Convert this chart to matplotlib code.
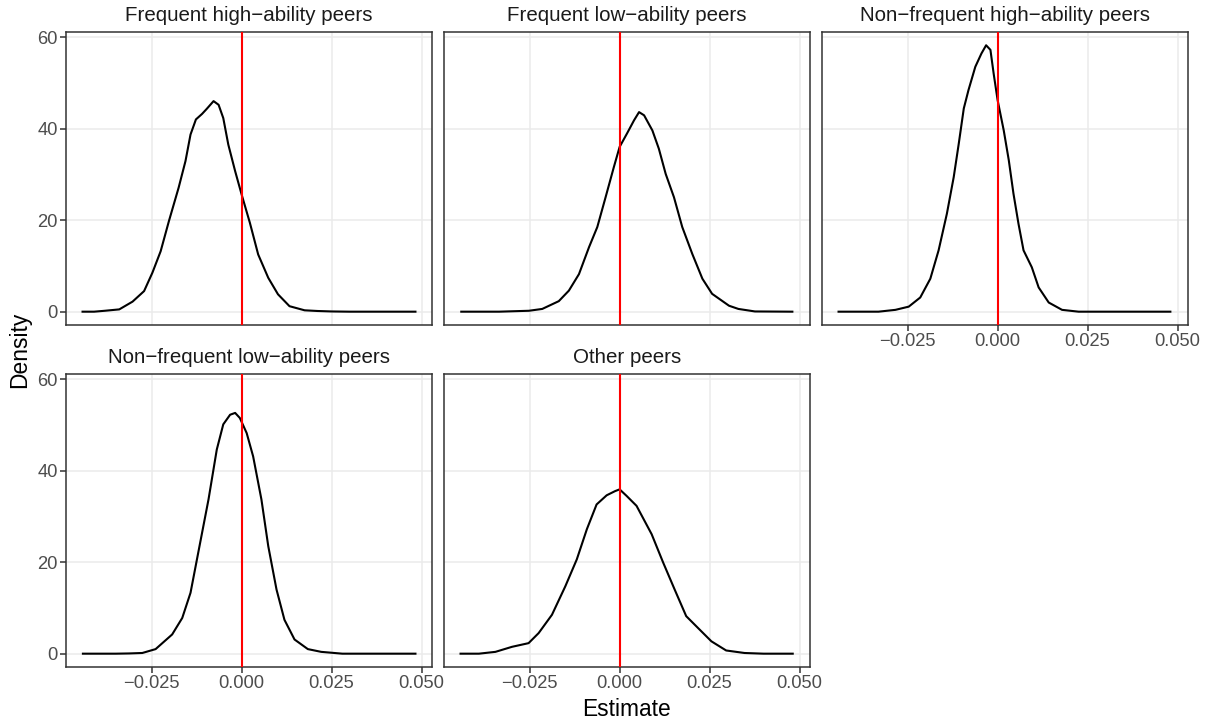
import numpy as np
import matplotlib.pyplot as plt

# panel titles (facet order)
panels = ["Frequent high−ability peers", "Frequent low−ability peers",
          "Non−frequent high−ability peers", "Non−frequent low−ability peers",
          "Other peers"]

# density curves
x_fh = [-0.0442, -0.0410, -0.0380, -0.0340, -0.0303, -0.0271, -0.0248, -0.0225, -0.0202, -0.0175,
        -0.0156, -0.0142, -0.0127, -0.0110, -0.0097, -0.0078, -0.0064, -0.0051, -0.0037, -0.0018,
        0.0000, 0.0023, 0.0046, 0.0074, 0.0101, 0.0133, 0.0175, 0.0211, 0.0250, 0.0300, 0.0483]
y_fh = [0.0, 0.0, 0.2, 0.5, 2.2, 4.5, 8.5, 13.2, 19.8, 27.1,
        32.9, 38.7, 42.0, 43.2, 44.3, 46.0, 45.2, 42.3, 36.5, 30.7,
        25.6, 19.4, 12.5, 7.4, 3.8, 1.2, 0.3, 0.15, 0.05, 0.0, 0.0]

x_fl = [-0.0440, -0.0335, -0.0252, -0.0215, -0.0169, -0.0141, -0.0113, -0.0085, -0.0062, -0.0039,
        -0.0016, 0.0000, 0.0021, 0.0040, 0.0054, 0.0068, 0.0091, 0.0109, 0.0128, 0.0151,
        0.0174, 0.0202, 0.0230, 0.0257, 0.0304, 0.0330, 0.0376, 0.0480]
y_fl = [0.0, 0.0, 0.2, 0.6, 2.3, 4.6, 8.2, 14.1, 18.5, 25.0,
        31.6, 36.0, 39.0, 41.8, 43.6, 42.9, 39.6, 35.6, 30.1, 25.0,
        18.5, 12.6, 7.2, 3.9, 1.3, 0.6, 0.05, 0.0]

x_nh = [-0.0442, -0.0331, -0.0284, -0.0247, -0.0215, -0.0187, -0.0164, -0.0141, -0.0122, -0.0108,
        -0.0094, -0.0081, -0.0062, -0.0045, -0.0032, -0.0020, -0.0011, 0.0000, 0.0017, 0.0031,
        0.0044, 0.0058, 0.0072, 0.0095, 0.0114, 0.0142, 0.0179, 0.0225, 0.0480]
y_nh = [0.0, 0.0, 0.4, 1.1, 3.1, 7.2, 13.4, 21.4, 29.4, 36.7,
        44.4, 48.4, 53.5, 56.4, 58.2, 57.2, 52.0, 46.2, 39.6, 33.1,
        25.8, 19.2, 13.4, 9.7, 5.3, 2.0, 0.4, 0.0, 0.0]

x_nl = [-0.0441, -0.0350, -0.0313, -0.0276, -0.0239, -0.0193, -0.0165, -0.0142, -0.0119, -0.0092,
        -0.0069, -0.0051, -0.0032, -0.0018, -0.0005, 0.0014, 0.0032, 0.0055, 0.0074, 0.0097,
        0.0119, 0.0147, 0.0184, 0.0221, 0.0280, 0.0483]
y_nl = [0.0, 0.0, 0.05, 0.15, 1.0, 4.2, 7.8, 13.3, 22.7, 33.7,
        44.6, 50.1, 52.2, 52.6, 51.5, 48.2, 43.1, 33.7, 23.5, 14.0,
        7.4, 3.1, 1.0, 0.4, 0.0, 0.0]

x_ot = [-0.0442, -0.0391, -0.0345, -0.0299, -0.0253, -0.0225, -0.0188, -0.0151, -0.0119, -0.0091,
        -0.0064, -0.0036, -0.0013, 0.0000, 0.0019, 0.0047, 0.0089, 0.0121, 0.0153, 0.0185,
        0.0218, 0.0255, 0.0296, 0.0347, 0.0400, 0.0481]
y_ot = [0.0, 0.0, 0.4, 1.5, 2.3, 4.5, 8.5, 14.7, 20.6, 27.2,
        32.6, 34.6, 35.5, 35.9, 34.5, 32.3, 26.1, 19.9, 14.0, 8.2,
        5.6, 2.7, 0.7, 0.15, 0.0, 0.0]

curves = [(x_fh, y_fh), (x_fl, y_fl), (x_nh, y_nh), (x_nl, y_nl), (x_ot, y_ot)]

x_ticks = [-0.025, 0.0, 0.025, 0.05]
x_labels = ["−0.025", "0.000", "0.025", "0.050"]
y_ticks = [0, 20, 40, 60]

plt.rcParams['font.family'] = ['Liberation Sans', 'DejaVu Sans']

W, H = 1212, 724
fig = plt.figure(figsize=(W / 100, H / 100), dpi=100)

col_left = [66, 444, 822]
row_top = [32, 374]
pw, ph = 366, 293

xmin, xmax = -0.0488, 0.0529
ymin, ymax = -2.91, 61.1

for i, (name, (xs, ys)) in enumerate(zip(panels, curves)):
    r, c = divmod(i, 3)
    l, t = col_left[c], row_top[r]
    ax = fig.add_axes([l / W, 1 - (t + ph) / H, pw / W, ph / H])
    ax.set_xlim(xmin, xmax)
    ax.set_ylim(ymin, ymax)
    ax.set_xticks(x_ticks)
    ax.set_yticks(y_ticks)
    ax.grid(True, color='#EBEBEB', linewidth=1.1, zorder=0)
    ax.set_axisbelow(True)
    ax.plot(xs, ys, color='black', linewidth=1.5, zorder=3, solid_joinstyle='round')
    ax.axvline(0, color='red', linewidth=1.5, zorder=4)
    for s in ax.spines.values():
        s.set_color('#333333')
        s.set_linewidth(1.1)
    ax.tick_params(colors='#333333', labelcolor='#4D4D4D', labelsize=13.2,
                   length=4, width=1.1, pad=2)
    show_x = (r == 1) or (c == 2)
    if show_x:
        ax.set_xticklabels(x_labels)
    else:
        ax.tick_params(axis='x', length=0, labelbottom=False)
    if c == 0:
        ax.set_yticklabels([str(v) for v in y_ticks])
    else:
        ax.tick_params(axis='y', length=0, labelleft=False)
    ax.set_title(name, fontsize=14.8, color='#1A1A1A', pad=8)

fig.text((66 + 1188) / 2 / W, 1 - 710 / H, "Estimate", ha='center', va='center', fontsize=16.4)
fig.text(20 / W, 1 - 350 / H, "Density", ha='center', va='center', rotation=90, fontsize=16.4)

fig.savefig("out.png", dpi=100)
